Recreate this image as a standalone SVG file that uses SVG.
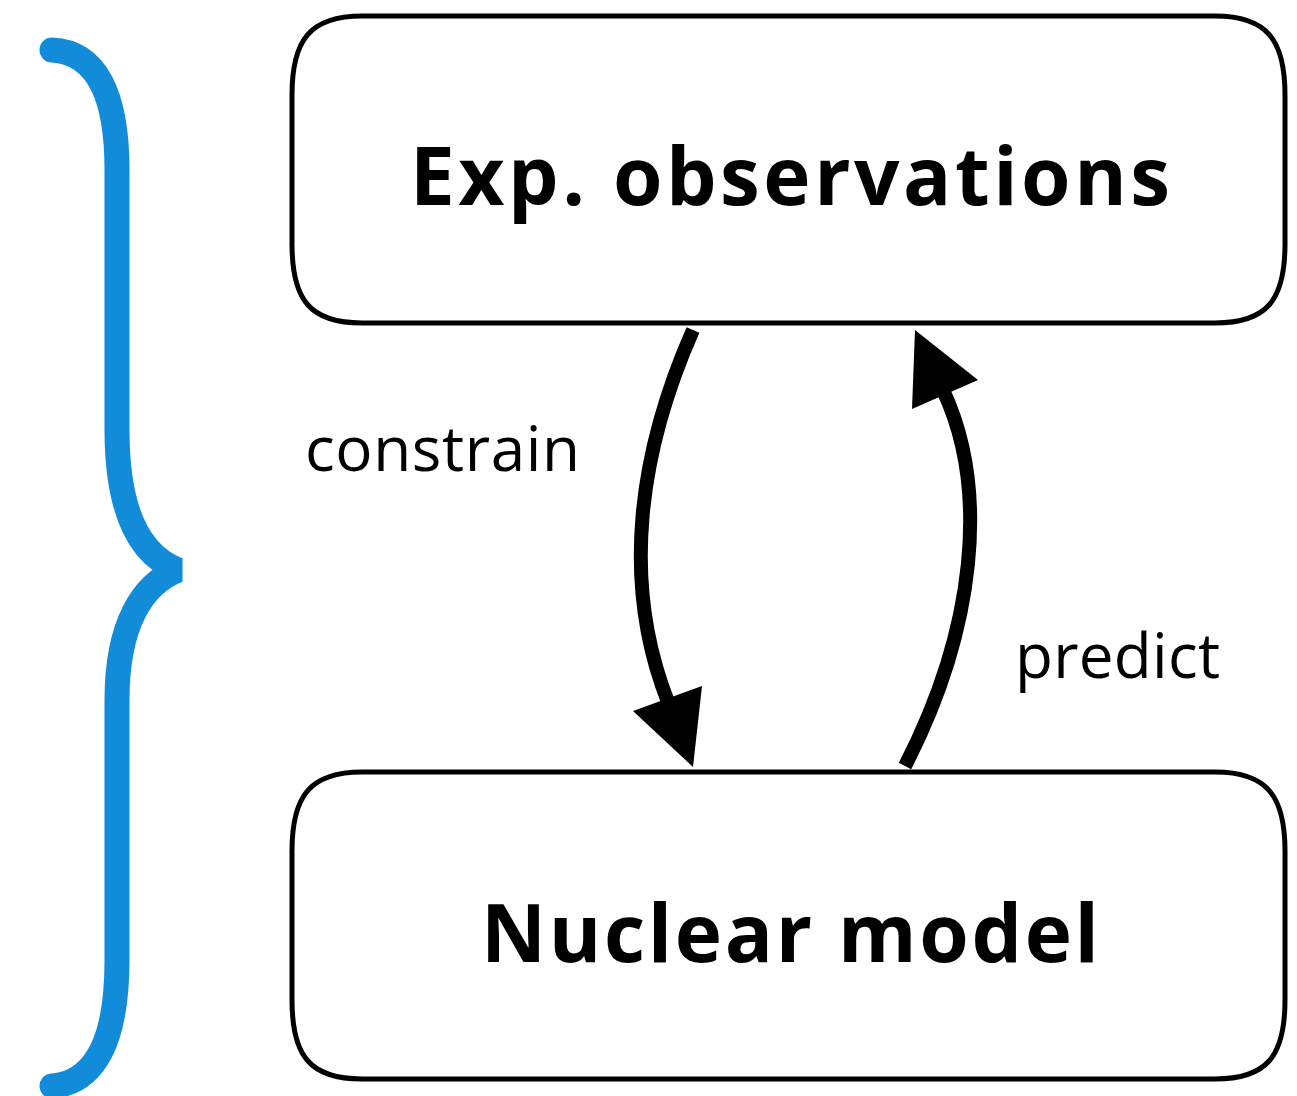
<svg xmlns="http://www.w3.org/2000/svg" width="1297" height="1096" viewBox="0 0 1297 1096">
<style>
.box{fill:#fff;stroke:#000;stroke-width:5}
.title{font-family:"Open Sans",sans-serif;font-weight:bold;font-size:80px;fill:#000}
.lbl{font-family:"Open Sans",sans-serif;font-size:62px;fill:#000}
.conn{fill:none;stroke:#000;stroke-width:14}
.head{fill:#000}
.brace{fill:none;stroke:#128cd8;stroke-width:25;stroke-linecap:round;stroke-linejoin:bevel}
</style>
<rect width="1297" height="1096" fill="#fff"/>
<g id="brace">
<path class="brace" d="M52,50 C95,52 117,92 117,170 L117,430 C117,515 142,556 178,570 C142,584 117,625 117,700 L117,960 C117,1040 95,1083 52,1086"/>
</g>
<g id="node-exp">
<path class="box" d="M362,16 L1215,16 C1267,16 1285,40 1285,95 L1285,244 C1285,300 1267,323 1215,323 L362,323 C310,323 292,300 292,244 L292,95 C292,40 310,16 362,16 Z"/>
<text class="title" x="790" y="205" text-anchor="middle" textLength="760" lengthAdjust="spacing">Exp. observations</text>
</g>
<g id="node-model">
<path class="box" d="M362,772 L1215,772 C1267,772 1285,796 1285,851 L1285,1000 C1285,1056 1267,1079 1215,1079 L362,1079 C310,1079 292,1056 292,1000 L292,851 C292,796 310,772 362,772 Z"/>
<text class="title" x="790" y="962" text-anchor="middle" textLength="618" lengthAdjust="spacing">Nuclear model</text>
</g>
<g id="connectors">
<path class="conn" d="M693,330 C640,450 620,580 668,702"/>
<polygon class="head" points="633,711 702,686 693,767"/>
<text class="lbl" x="305" y="471" textLength="275" lengthAdjust="spacing">constrain</text>
<path class="conn" d="M905,766 C975,630 990,490 943,390"/>
<polygon class="head" points="915,330 978,380 912,409"/>
<text class="lbl" x="1015" y="678" textLength="205" lengthAdjust="spacing">predict</text>
</g>
</svg>
